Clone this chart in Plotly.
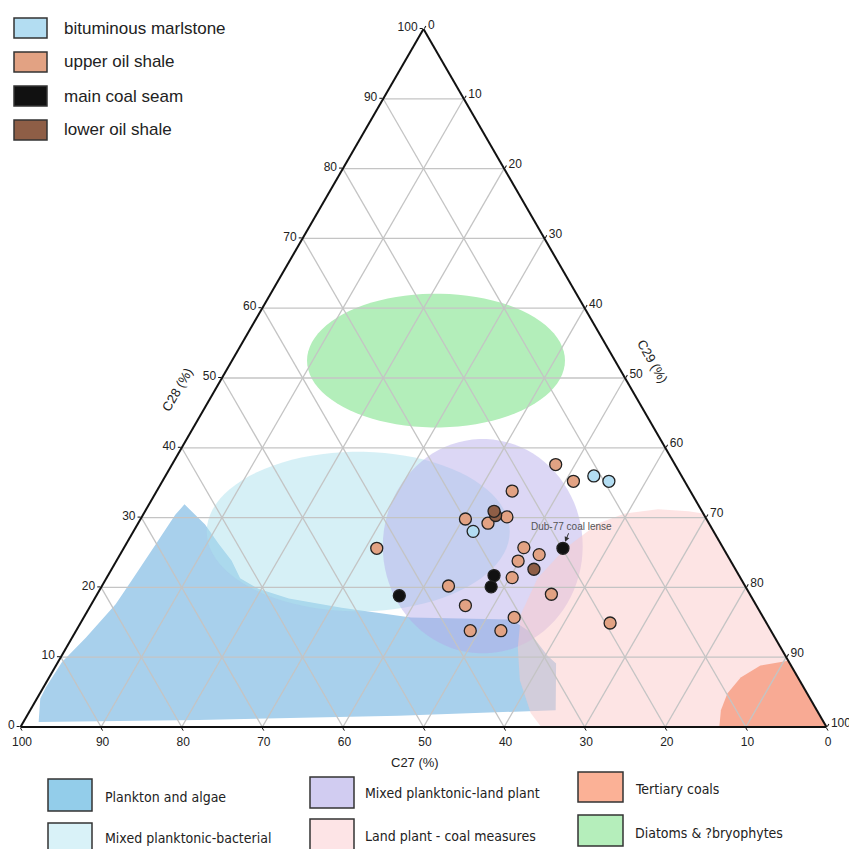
import math
import plotly.graph_objects as go

# ---------------- data ----------------
SERIES_NAMES = ["upper oil shale", "bituminous marlstone", "lower oil shale", "main coal seam"]
SERIES_COLORS = ["#E2A283", "#B3DDF2", "#8E5E46", "#111111"]

# C28 (a, top), C27 (b, bottom-left), C29 (c, bottom-right), in %
upper_c28 = [37.6, 35.2, 33.8, 29.8, 29.2, 30.1, 25.6, 25.7, 24.7, 23.8, 21.4, 20.2, 19.0, 17.4, 15.7, 14.9, 13.8, 13.8]
upper_c27 = [14.8, 13.8, 22.1, 29.9, 27.4, 24.6, 43.0, 24.7, 23.3, 26.4, 28.3, 36.8, 24.6, 36.1, 30.9, 19.4, 37.3, 33.5]
upper_c29 = [47.6, 51.0, 44.1, 40.3, 43.4, 45.3, 31.4, 49.6, 52.0, 49.9, 50.3, 43.0, 56.3, 46.5, 53.4, 65.7, 48.9, 52.7]

bitum_c28 = [36.0, 35.2, 28.0]
bitum_c27 = [10.9, 9.4, 29.8]
bitum_c29 = [53.2, 55.4, 42.1]

lower_c28 = [30.3, 30.9, 22.6]
lower_c27 = [25.9, 25.8, 25.0]
lower_c29 = [43.8, 43.3, 52.4]

coal_c28 = [25.6, 21.7, 20.1, 18.8]
coal_c27 = [19.9, 30.4, 31.6, 43.6]
coal_c29 = [54.5, 47.9, 48.4, 37.6]

DUB77_LABEL = "Dub-77 coal lense"

# legend order (top-left)
LEGEND_ORDER = ["bituminous marlstone", "upper oil shale", "main coal seam", "lower oil shale"]

# source regions
REGION_NAMES = ["Plankton and algae", "Mixed planktonic-bacterial", "Mixed planktonic-land plant",
                "Land plant - coal measures", "Tertiary coals", "Diatoms & ?bryophytes"]
REGION_FILL = ["#A8D0EC", "rgba(173,225,237,0.5)", "rgba(178,167,233,0.45)",
               "rgba(251,201,201,0.5)", "#F8AA94", "#B3EEBA"]
REGION_LEGEND_COLOR = ["#93CDEA", "#D9F2F8", "#D1CCF1", "#FDE4E6", "#FBB196", "#B5EEBB"]

# polygon outlines (C28, C29); C27 = 100 - C28 - C29
plankton_c28 = [0.7, 4.1, 5.7, 9.3, 12.8, 17.6, 20.9, 26.2, 30.4, 31.9, 29.0, 26.2, 23.8, 21.3, 19.8, 18.4, 17.1, 15.7, 15.4, 13.8, 10.2, 9.1, 2.4, 1.6, 1.0]
plankton_c29 = [1.9, 0.4, 0.3, 0.5, 1.7, 3.0, 3.3, 3.7, 4.0, 4.4, 8.4, 11.5, 14.3, 16.6, 19.6, 24.1, 31.3, 40.6, 53.2, 56.1, 60.3, 61.9, 65.2, 46.1, 21.6]

landplant_c28 = [0.0, 2.0, 6.7, 11.4, 16.2, 21.3, 25.6, 29.2, 30.6, 31.2, 30.9, 30.6, 0.0]
landplant_c29 = [64.6, 62.3, 58.6, 56.0, 54.0, 53.5, 54.8, 57.1, 59.7, 63.5, 67.4, 69.4, 100.0]

tertiary_c28 = [0.0, 2.4, 4.8, 7.1, 8.8, 9.5, 0.0]
tertiary_c29 = [86.7, 85.7, 85.3, 85.8, 87.4, 90.5, 100.0]

# ellipses: centre (C28, C29) and semi-axes in % units (horizontal, vertical)
bact_ellipse = (28.0, 27.9, 18.8, 9.9)
mixed_ellipse = (25.9, 44.4, 12.4, 13.3)
diatom_ellipse = (52.5, 25.3, 16.0, 8.3)

TICKS = [0, 10, 20, 30, 40, 50, 60, 70, 80, 90, 100]
GRID = [10, 20, 30, 40, 50, 60, 70, 80, 90]

# ---------------- geometry helpers ----------------
OFF = 8                      # page body margin of the browser
W, H = 857 - OFF, 849 - OFF  # figure size
TRI_X0, TRI_W = 20.0, 806.0  # triangle position in window pixels
TRI_H = TRI_W * math.sqrt(3) / 2
TRI_Y0 = 727.0 - TRI_H
S3 = math.sqrt(3) / 2


def ellipse(params, n=90):
    a0, c0, rx, ry = params
    x0 = c0 + a0 / 2.0
    y0 = a0 * S3
    A, B, C = [], [], []
    for k in range(n + 1):
        t = 2 * math.pi * k / n
        x = x0 + rx * math.cos(t)
        y = y0 + ry * math.sin(t)
        a = y / S3
        c = x - a / 2.0
        A.append(a); C.append(c); B.append(100 - a - c)
    return A, B, C


def rest(a_list, c_list):
    return [100 - a - c for a, c in zip(a_list, c_list)]


def to_px(a, b, c):
    s = a + b + c
    a, c = a / s, c / s
    return TRI_X0 + TRI_W * (c + a / 2), TRI_Y0 + TRI_H * (1 - a)


def paper(px, py):
    return (px - OFF) / W, 1 - (py - OFF) / H


fig = go.Figure()


def region(a, b, c, color):
    fig.add_trace(go.Scatterternary(a=a, b=b, c=c, mode="lines", fill="toself",
                                    fillcolor=color, line=dict(width=0, color="rgba(0,0,0,0)"),
                                    hoverinfo="skip", showlegend=False))


region(plankton_c28, rest(plankton_c28, plankton_c29), plankton_c29, REGION_FILL[0])
region(*ellipse(bact_ellipse), REGION_FILL[1])
region(*ellipse(mixed_ellipse), REGION_FILL[2])
region(landplant_c28, rest(landplant_c28, landplant_c29), landplant_c29, REGION_FILL[3])
region(tertiary_c28, rest(tertiary_c28, tertiary_c29), tertiary_c29, REGION_FILL[4])
region(*ellipse(diatom_ellipse), REGION_FILL[5])

# grid lines drawn above the regions
ga, gb, gc = [], [], []
for v in GRID:
    ga += [v, v, None]; gb += [100 - v, 0, None]; gc += [0, 100 - v, None]
    ga += [100 - v, 0, None]; gb += [v, v, None]; gc += [0, 100 - v, None]
    ga += [100 - v, 0, None]; gb += [0, 100 - v, None]; gc += [v, v, None]
fig.add_trace(go.Scatterternary(a=ga, b=gb, c=gc, mode="lines",
                                line=dict(color="#C4C4C4", width=1.3),
                                hoverinfo="skip", showlegend=False, connectgaps=False))

# samples
data = {
    "upper oil shale": (upper_c28, upper_c27, upper_c29),
    "bituminous marlstone": (bitum_c28, bitum_c27, bitum_c29),
    "lower oil shale": (lower_c28, lower_c27, lower_c29),
    "main coal seam": (coal_c28, coal_c27, coal_c29),
}
for name, col in zip(SERIES_NAMES, SERIES_COLORS):
    a, b, c = data[name]
    fig.add_trace(go.Scatterternary(a=a, b=b, c=c, mode="markers", name=name,
                                    marker=dict(size=12, color=col,
                                                line=dict(color="#222222", width=1.3)),
                                    showlegend=False))

axis_common = dict(tickmode="array", tickvals=TICKS, ticktext=[str(t) for t in TICKS],
                   ticks="outside", ticklen=3, tickcolor="#111", tickwidth=1.2,
                   linecolor="#111111", linewidth=2, showgrid=False,
                   tickfont=dict(family="Liberation Sans, Arial, sans-serif", size=12, color="#222"),
                   title=dict(text=""), min=0)

xc = (TRI_X0 - OFF + TRI_W / 2) / W
yc = 1 - (TRI_Y0 - OFF + TRI_H / 2) / H
yd = TRI_H / H
fig.update_layout(
    width=W, height=H, paper_bgcolor="white",
    margin=dict(l=0, r=0, t=0, b=0),
    showlegend=False,
    ternary=dict(sum=100, bgcolor="rgba(0,0,0,0)",
                 domain=dict(x=[max(0, xc - 0.49), xc + 0.49], y=[yc - yd / 2, yc + yd / 2]),
                 aaxis=axis_common, baxis=axis_common, caxis=axis_common),
    font=dict(family="Liberation Sans, Arial, sans-serif"),
)

annotations = []
shapes = []

# Dub-77 annotation
pxp, pyp = to_px(coal_c28[0], coal_c27[0], coal_c29[0])
xp, yp = paper(pxp, pyp)
annotations.append(dict(x=xp, y=yp, xref="paper", yref="paper", text=DUB77_LABEL,
                        showarrow=True, arrowhead=2, arrowsize=1, arrowwidth=1, arrowcolor="#333",
                        ax=9, ay=-22, standoff=7,
                        font=dict(family="Liberation Sans, Arial, sans-serif", size=10, color="#555")))


def edge_label(text, px, py, angle):
    x, y = paper(px, py)
    annotations.append(dict(x=x, y=y, xref="paper", yref="paper", text=text, showarrow=False,
                            textangle=angle, xanchor="center", yanchor="middle",
                            font=dict(family="Liberation Sans, Arial, sans-serif", size=13, color="#222")))


lx, ly = to_px(46, 54, 0)
edge_label("C28 (%)", lx - 0.866 * 32, ly - 0.5 * 32, -60)
rx_, ry_ = to_px(50, 0, 50)
edge_label("C29 (%)", rx_ + 0.866 * 32, ry_ - 0.5 * 32, 60)
bx, by = to_px(0, 51, 49)
edge_label("C27 (%)", bx, by + 35, 0)

# top-left legend of sample groups
for i, name in enumerate(LEGEND_ORDER):
    col = SERIES_COLORS[SERIES_NAMES.index(name)]
    cy = 28 + 34 * i
    x0, y0 = paper(14, cy - 10)
    x1, y1 = paper(47, cy + 10)
    shapes.append(dict(type="rect", xref="paper", yref="paper", x0=x0, x1=x1, y0=y1, y1=y0,
                       fillcolor=col, line=dict(color="#333", width=1.5)))
    tx, ty = paper(62, cy)
    annotations.append(dict(x=tx, y=ty, xref="paper", yref="paper", text=name, showarrow=False,
                            xanchor="left", yanchor="middle",
                            font=dict(family="Liberation Sans, Arial, sans-serif", size=17, color="#222")))

# bottom legend of source regions (3 columns x 2 rows): box left/top/right/bottom, text x/y
leg_box = [(48, 779, 92, 811), (48, 823, 92, 856), (310, 777, 354, 808),
           (310, 819, 354, 850), (578, 772, 623, 802), (578, 815, 623, 846)]
leg_text = [(103, 797), (103, 838), (363, 793), (363, 836), (633, 789), (633, 833)]
for i, name in enumerate(REGION_NAMES):
    bx0, by0, bx1, by1 = leg_box[i]
    x0, y0 = paper(bx0, by0)
    x1, y1 = paper(bx1, by1)
    shapes.append(dict(type="rect", xref="paper", yref="paper", x0=x0, x1=x1, y0=y1, y1=y0,
                       fillcolor=REGION_LEGEND_COLOR[i], line=dict(color="#333", width=1.5)))
    tx, ty = paper(*leg_text[i])
    annotations.append(dict(x=tx, y=ty, xref="paper", yref="paper", text=name, showarrow=False,
                            xanchor="left", yanchor="middle",
                            font=dict(family="DejaVu Sans Condensed, Liberation Sans Narrow, sans-serif",
                                      size=14, color="#222")))

fig.update_layout(annotations=annotations, shapes=shapes)
fig.write_html("out.html")
